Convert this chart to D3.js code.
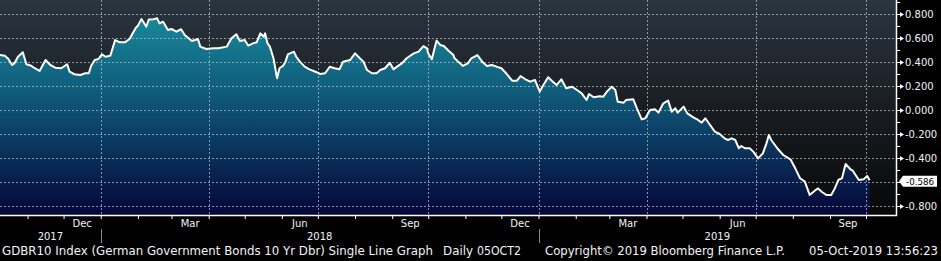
<!DOCTYPE html>
<html>
<head>
<meta charset="utf-8">
<script src="https://cdn.jsdelivr.net/npm/d3@7"></script>
<style>
  body { margin: 0; background: #000; }
  svg { display: block; }
  text { font-family: "DejaVu Sans", sans-serif; fill: #f2f4f8; }
</style>
</head>
<body>
<svg id="chart" width="941" height="261"></svg>
<script>
// GDBR10 daily close
const dates = [
  "2017-10-09","2017-10-13","2017-10-16","2017-10-19","2017-10-21","2017-10-24","2017-10-28","2017-10-31",
  "2017-11-04","2017-11-07","2017-11-11","2017-11-16","2017-11-20","2017-11-24","2017-11-29",
  "2017-12-04","2017-12-06","2017-12-10","2017-12-15","2017-12-19","2017-12-22","2017-12-24","2017-12-27","2017-12-30",
  "2018-01-02","2018-01-05","2018-01-09","2018-01-13","2018-01-17","2018-01-21","2018-01-25","2018-01-30",
  "2018-02-01","2018-02-04","2018-02-08","2018-02-10","2018-02-14","2018-02-17","2018-02-19","2018-02-22","2018-02-26",
  "2018-03-01","2018-03-05","2018-03-09","2018-03-12","2018-03-18","2018-03-23","2018-03-25","2018-03-30",
  "2018-04-05","2018-04-09","2018-04-16","2018-04-20","2018-04-24","2018-04-27",
  "2018-05-01","2018-05-04","2018-05-08","2018-05-11","2018-05-14","2018-05-17","2018-05-18","2018-05-20","2018-05-22","2018-05-25","2018-05-28","2018-05-30",
  "2018-06-02","2018-06-04","2018-06-06","2018-06-11","2018-06-13","2018-06-16","2018-06-20","2018-06-24","2018-06-29",
  "2018-07-03","2018-07-07","2018-07-11","2018-07-15","2018-07-19","2018-07-22","2018-07-28",
  "2018-08-01","2018-08-05","2018-08-08","2018-08-11","2018-08-15","2018-08-19","2018-08-22","2018-08-26","2018-08-30",
  "2018-09-02","2018-09-05","2018-09-09","2018-09-13","2018-09-19","2018-09-23","2018-09-27","2018-09-30",
  "2018-10-01","2018-10-04","2018-10-07","2018-10-08","2018-10-11","2018-10-14","2018-10-18","2018-10-22","2018-10-23","2018-10-26","2018-10-30",
  "2018-11-03","2018-11-06","2018-11-11","2018-11-15","2018-11-19","2018-11-23","2018-11-27",
  "2018-12-01","2018-12-05","2018-12-10","2018-12-14","2018-12-17","2018-12-21","2018-12-25","2018-12-29",
  "2019-01-02","2019-01-05","2019-01-09","2019-01-12","2019-01-16","2019-01-20","2019-01-24","2019-01-29",
  "2019-02-02","2019-02-06","2019-02-10","2019-02-12","2019-02-16","2019-02-21","2019-02-24","2019-02-27",
  "2019-03-03","2019-03-06","2019-03-08","2019-03-13","2019-03-15","2019-03-21","2019-03-24","2019-03-28","2019-03-31",
  "2019-04-04","2019-04-08","2019-04-11","2019-04-15","2019-04-19","2019-04-22","2019-04-25","2019-04-27",
  "2019-05-02","2019-05-05","2019-05-10","2019-05-14","2019-05-17","2019-05-20","2019-05-24","2019-05-28",
  "2019-06-01","2019-06-05","2019-06-08","2019-06-11","2019-06-14","2019-06-17","2019-06-19","2019-06-22","2019-06-26","2019-06-29",
  "2019-07-03","2019-07-07","2019-07-10","2019-07-12","2019-07-14","2019-07-19","2019-07-24","2019-07-30",
  "2019-08-03","2019-08-07","2019-08-11","2019-08-15","2019-08-20","2019-08-22","2019-08-25","2019-08-29",
  "2019-09-02","2019-09-05","2019-09-08","2019-09-11","2019-09-14","2019-09-18","2019-09-20","2019-09-25","2019-09-29",
  "2019-10-02","2019-10-04"
];
const yields = [
  0.458,0.453,0.425,0.375,0.389,0.444,0.481,0.381,
  0.369,0.348,0.325,0.417,0.375,0.353,0.348,
  0.381,0.319,0.298,0.292,0.306,0.306,0.369,0.417,0.425,
  0.464,0.444,0.453,0.583,0.564,0.564,0.592,0.681,
  0.703,0.758,0.694,0.754,0.756,0.764,0.722,0.736,0.667,
  0.675,0.653,0.673,0.625,0.575,0.592,0.528,0.508,
  0.514,0.514,0.528,0.598,0.631,0.575,
  0.583,0.536,0.556,0.564,0.639,0.611,0.639,0.556,0.528,0.431,0.264,0.348,
  0.369,0.403,0.464,0.486,0.444,0.403,0.361,0.339,0.319,
  0.300,0.306,0.361,0.348,0.339,0.403,0.417,
  0.472,0.431,0.403,0.333,0.306,0.306,0.333,0.348,0.394,
  0.339,0.361,0.389,0.431,0.472,0.486,0.533,0.514,
  0.472,0.422,0.542,0.578,0.542,0.533,0.494,0.458,0.431,0.403,0.367,
  0.389,0.431,0.458,0.403,0.367,0.375,0.361,
  0.348,0.306,0.244,0.244,0.283,0.256,0.236,0.250,
  0.153,0.208,0.273,0.244,0.208,0.256,0.181,0.194,
  0.167,0.139,0.083,0.133,0.106,0.115,0.111,0.153,
  0.194,0.167,0.069,0.061,0.083,0.089,0.014,-0.078,-0.069,
  0.000,0.006,-0.022,0.056,0.078,-0.014,0.014,-0.022,
  0.028,-0.028,-0.061,-0.083,-0.106,-0.069,-0.125,-0.181,
  -0.200,-0.236,-0.250,-0.236,-0.250,-0.319,-0.300,-0.319,-0.318,-0.347,
  -0.403,-0.361,-0.278,-0.208,-0.250,-0.319,-0.375,-0.411,
  -0.486,-0.569,-0.597,-0.708,-0.667,-0.653,-0.681,-0.708,
  -0.708,-0.653,-0.583,-0.569,-0.450,-0.494,-0.506,-0.583,-0.578,
  -0.550,-0.586
];
const yTicks = [0.8, 0.6, 0.4, 0.2, 0.0, -0.2, -0.4, -0.6, -0.8];
const monthLabels = ["2017-12","2018-03","2018-06","2018-09","2018-12","2019-03","2019-06","2019-09"];
const years = [2017, 2018, 2019];
const footerTexts = [
  "GDBR10 Index (German Government Bonds 10 Yr Dbr) Single Line Graph",
  "Daily",
  "05OCT2",
  "Copyright\u00a9 2019 Bloomberg Finance L.P.",
  "05-Oct-2019 13:56:23"
];

// layout
const plotW = 896, plotH = 215;
const footerX = [2, 443, 477, 545, 809];
const footerW = [431, 30, 44, 240, 129];

const parse = d3.timeParse("%Y-%m-%d");
const parseMonth = d3.timeParse("%Y-%m");
const series = dates.map((d, i) => ({ date: parse(d), value: yields[i] }));
const last = series[series.length - 1];

const x = d3.scaleTime()
  .domain([parse("2017-10-09"), parse("2019-10-26")])
  .range([0, plotW]);
const y = d3.scaleLinear().domain([-0.8, 0.8]).range([206, 14]);

const svg = d3.select("#chart");
svg.append("rect").attr("width", 941).attr("height", 261).attr("fill", "#000");

const defs = svg.append("defs");
const bg = defs.append("linearGradient").attr("id", "bg")
  .attr("gradientUnits", "userSpaceOnUse").attr("x1", 0).attr("y1", 0).attr("x2", 0).attr("y2", plotH);
bg.append("stop").attr("offset", 0).attr("stop-color", "#2a3540");
bg.append("stop").attr("offset", 0.5).attr("stop-color", "#191d22");
bg.append("stop").attr("offset", 1).attr("stop-color", "#080808");

const fillGrad = defs.append("linearGradient").attr("id", "fill")
  .attr("gradientUnits", "userSpaceOnUse").attr("x1", 0).attr("y1", 0).attr("x2", 0).attr("y2", plotH);
fillGrad.append("stop").attr("offset", 0).attr("stop-color", "#1a92a2");
fillGrad.append("stop").attr("offset", 0.45).attr("stop-color", "#0f5878");
fillGrad.append("stop").attr("offset", 1).attr("stop-color", "#05063a");

svg.append("rect").attr("width", plotW).attr("height", plotH).attr("fill", "url(#bg)");

// area
svg.append("path")
  .datum(series)
  .attr("fill", "url(#fill)")
  .attr("d", d3.area().x(d => x(d.date)).y0(plotH).y1(d => y(d.value)));

// grid
const grid = svg.append("g").attr("stroke", "#b4bcc6").attr("stroke-opacity", 0.75)
  .attr("stroke-dasharray", "2,2").attr("stroke-width", 1);
grid.selectAll("line.h").data(yTicks).join("line").attr("class", "h")
  .attr("x1", 0).attr("x2", plotW - 2)
  .attr("y1", d => Math.round(y(d)) + 0.5).attr("y2", d => Math.round(y(d)) + 0.5);
grid.selectAll("line.v").data(x.ticks(d3.timeMonth.every(3))).join("line").attr("class", "v")
  .attr("y1", 0).attr("y2", plotH)
  .attr("x1", d => Math.round(x(d)) + 0.5).attr("x2", d => Math.round(x(d)) + 0.5);

// line
svg.append("path")
  .datum(series)
  .attr("fill", "none")
  .attr("stroke", "#fff")
  .attr("stroke-width", 2)
  .attr("stroke-linejoin", "round")
  .attr("d", d3.line().x(d => x(d.date)).y(d => y(d.value)));

// frame
svg.append("path").attr("d", `M0,${plotH + 0.5}H${plotW + 0.5}V0`)
  .attr("fill", "none").attr("stroke", "#fff").attr("stroke-width", 1.5);

// x axis: month ticks
const xAxis = svg.append("g").attr("transform", `translate(0,${plotH})`)
  .call(d3.axisBottom(x).ticks(d3.timeMonth.every(1)).tickSize(4).tickFormat(""));
xAxis.select(".domain").remove();
xAxis.selectAll("line").attr("stroke", "#fff");

const fmtMon = d3.timeFormat("%b");
svg.append("g").selectAll("text").data(monthLabels.map(parseMonth)).join("text")
  .attr("x", d => (x(d) + x(d3.timeMonth.offset(d, 1))) / 2)
  .attr("y", 227)
  .attr("text-anchor", "middle")
  .attr("font-size", 10)
  .text(d => fmtMon(d));

const [x0, x1] = x.domain();
svg.append("g").selectAll("text").data(years).join("text")
  .attr("x", d => {
    const a = d3.max([new Date(d, 0, 1), x0]);
    const b = d3.min([new Date(d + 1, 0, 1), x1]);
    return (x(a) + x(b)) / 2;
  })
  .attr("y", 240)
  .attr("text-anchor", "middle")
  .attr("font-size", 10)
  .text(d => d);

svg.append("g").selectAll("line").data(years.slice(1)).join("line")
  .attr("x1", d => Math.round(x(new Date(d, 0, 1))) + 0.5)
  .attr("x2", d => Math.round(x(new Date(d, 0, 1))) + 0.5)
  .attr("y1", 229).attr("y2", 243)
  .attr("stroke", "#8a8a8a");

// y axis on the right
const minor = d3.range(-8, 10).map(i => i / 10);
svg.append("g").selectAll("line").data(minor).join("line")
  .attr("x1", plotW + 1).attr("x2", plotW + 4)
  .attr("y1", d => Math.round(y(d)) + 0.5).attr("y2", d => Math.round(y(d)) + 0.5)
  .attr("stroke", "#fff");

// the last-value tag hides the tick label it sits on
const ly = y(last.value) + 1;
const shownTicks = yTicks.filter(v => Math.abs(y(v) - ly) > 9);

const yAxis = svg.append("g").attr("transform", `translate(${plotW},0)`)
  .call(d3.axisRight(y).tickValues(shownTicks).tickSize(0).tickPadding(9)
    .tickFormat(d => d.toFixed(3)));
yAxis.select(".domain").remove();
yAxis.selectAll("text").attr("font-size", 10).attr("font-family", "DejaVu Sans").attr("fill", "#f2f4f8");
yAxis.selectAll(".tick").append("path")
  .attr("d", "M1,-0.5H4L8,0L4,0.5H1Z M4,-2.5L8,0L4,2.5Z")
  .attr("fill", "#fff");

// last value tag
const tag = svg.append("g").attr("transform", `translate(${plotW},${ly})`);
tag.append("path").attr("d", "M3,0L7,-5.5H41V5.5H7Z").attr("fill", "#fff");
tag.append("text").attr("x", 10).attr("y", 3.4).attr("font-size", 9)
  .attr("textLength", 28).attr("lengthAdjust", "spacingAndGlyphs")
  .style("fill", "#000").text(last.value.toFixed(3));

// footer
svg.append("g").selectAll("text").data(footerTexts).join("text")
  .attr("x", (d, i) => footerX[i])
  .attr("y", 255)
  .attr("font-size", 11.5)
  .attr("textLength", (d, i) => footerW[i])
  .attr("lengthAdjust", "spacingAndGlyphs")
  .text(d => d);
</script>
</body>
</html>
